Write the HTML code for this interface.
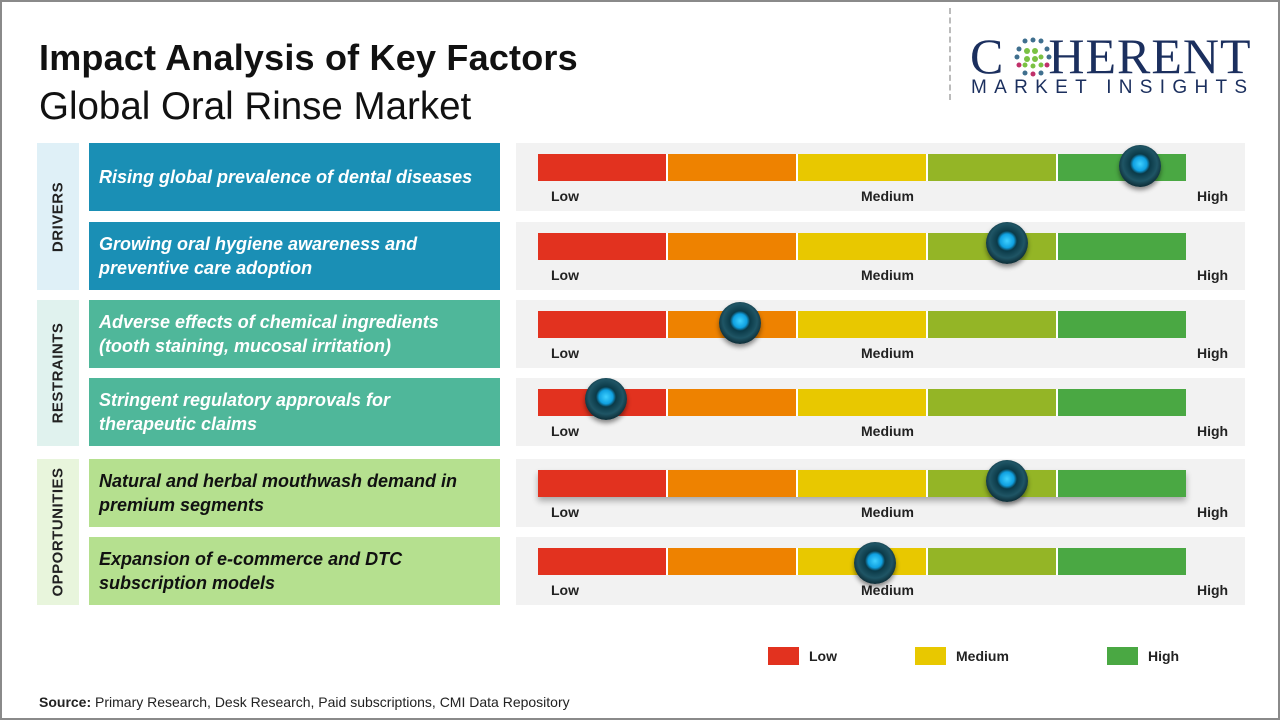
<!DOCTYPE html>
<html><head><meta charset="utf-8"><style>
*{margin:0;padding:0;box-sizing:border-box}
body{width:1280px;height:720px;background:#fff;font-family:"Liberation Sans",sans-serif;position:relative;overflow:hidden}
.frame{position:absolute;left:0;top:0;width:1280px;height:720px;border:2px solid #8a8a8a}
.abs{position:absolute}
.cat{position:absolute;left:37px;width:42px}
.cat span{position:absolute;left:50%;top:50%;transform:translate(-50%,-50%) rotate(-90deg);font-weight:bold;font-size:15px;white-space:nowrap;color:#222;letter-spacing:0.5px}
.txt{position:absolute;left:89px;width:411px;height:68px;display:flex;align-items:center;padding-left:10px;font-style:italic;font-weight:bold;font-size:18px;line-height:24px;color:#fff}
.panel{position:absolute;left:516px;width:729px;height:68px;background:#f2f2f2}
.bar{position:absolute;left:22px;top:11px;height:27px;width:648px;display:flex}
.bar div{flex:1;border-right:2px solid #fff}
.bar div:last-child{border-right:none}
.lbl{position:absolute;top:45px;font-size:14px;font-weight:bold;color:#222}
.knob{position:absolute;width:42px;height:42px;border-radius:50%;background:radial-gradient(circle at 50% 45%,#3fd0ff 0,#0fa0e0 22%,#0b3a48 32%,#1f5565 55%,#0c2a33 75%,#0a1f25 100%);box-shadow:0 3px 5px rgba(0,0,0,.45)}
</style></head><body>
<div class="frame"></div>
<div class="abs" style="left:39px;top:37px;font-size:36px;font-weight:bold;color:#111;letter-spacing:0.2px">Impact Analysis of Key Factors</div>
<div class="abs" style="left:39px;top:85px;font-size:38.5px;color:#111">Global Oral Rinse Market</div>
<div class="abs" style="left:949px;top:8px;height:92px;border-left:2px dashed #bbb"></div>
<div class="abs" style="left:970px;top:28px;font-family:'Liberation Serif',serif;font-size:50px;color:#1b2f5e;letter-spacing:1px;line-height:56px">C<span style="display:inline-block;width:44px"></span>HERENT</div>
<svg class="abs" style="left:1013px;top:37px" width="40" height="40" viewBox="0 0 40 40">
<g fill="#3f6f8e"><circle cx="12" cy="4" r="2.5"/><circle cx="20" cy="3" r="2.5"/><circle cx="28" cy="4" r="2.5"/><circle cx="6" cy="12" r="2.5"/><circle cx="34" cy="12" r="2.5"/><circle cx="4" cy="20" r="2.5"/><circle cx="36" cy="20" r="2.5"/><circle cx="12" cy="36" r="2.5"/><circle cx="28" cy="36" r="2.5"/></g>
<g fill="#c0306a"><circle cx="6" cy="28" r="2.5"/><circle cx="34" cy="28" r="2.5"/><circle cx="20" cy="37" r="2.5"/></g>
<g fill="#7ac143"><circle cx="14" cy="14" r="3"/><circle cx="22" cy="14" r="3"/><circle cx="14" cy="22" r="3"/><circle cx="22" cy="22" r="3"/><circle cx="28" cy="20" r="2.5"/><circle cx="12" cy="28" r="2.5"/><circle cx="20" cy="29" r="2.5"/><circle cx="28" cy="28" r="2.5"/></g></svg>
<div class="abs" style="left:971px;top:77px;font-size:19px;color:#1b2f5e;letter-spacing:7.3px">MARKET INSIGHTS</div>

<div class="cat" style="top:143px;height:147px;background:#dff0f7"><span>DRIVERS</span></div>
<div class="cat" style="top:300px;height:146px;background:#e0f2ee"><span>RESTRAINTS</span></div>
<div class="cat" style="top:459px;height:146px;background:#e8f5dc"><span>OPPORTUNITIES</span></div>

<div class="txt" style="top:143px;background:#1a8fb5">Rising global prevalence of dental diseases</div>
<div class="txt" style="top:222px;background:#1a8fb5">Growing oral hygiene awareness and<br>preventive care adoption</div>
<div class="txt" style="top:300px;background:#4fb79a">Adverse effects of chemical ingredients<br>(tooth staining, mucosal irritation)</div>
<div class="txt" style="top:378px;background:#4fb79a">Stringent regulatory approvals for<br>therapeutic claims</div>
<div class="txt" style="top:459px;background:#b5e08f;color:#111">Natural and herbal mouthwash demand in<br>premium segments</div>
<div class="txt" style="top:537px;background:#b5e08f;color:#111">Expansion of e-commerce and DTC<br>subscription models</div>

<div class="panel" style="top:143px"><div class="bar"><div style="background:#e2321f"></div><div style="background:#ee8200"></div><div style="background:#e8c800"></div><div style="background:#94b526"></div><div style="background:#4aa843"></div></div><div class="lbl" style="left:35px">Low</div><div class="lbl" style="left:345px">Medium</div><div class="lbl" style="left:681px">High</div><div class="knob" style="left:603px;top:2px"></div></div>
<div class="panel" style="top:222px"><div class="bar"><div style="background:#e2321f"></div><div style="background:#ee8200"></div><div style="background:#e8c800"></div><div style="background:#94b526"></div><div style="background:#4aa843"></div></div><div class="lbl" style="left:35px">Low</div><div class="lbl" style="left:345px">Medium</div><div class="lbl" style="left:681px">High</div><div class="knob" style="left:470px;top:0px"></div></div>
<div class="panel" style="top:300px"><div class="bar"><div style="background:#e2321f"></div><div style="background:#ee8200"></div><div style="background:#e8c800"></div><div style="background:#94b526"></div><div style="background:#4aa843"></div></div><div class="lbl" style="left:35px">Low</div><div class="lbl" style="left:345px">Medium</div><div class="lbl" style="left:681px">High</div><div class="knob" style="left:203px;top:2px"></div></div>
<div class="panel" style="top:378px"><div class="bar"><div style="background:#e2321f"></div><div style="background:#ee8200"></div><div style="background:#e8c800"></div><div style="background:#94b526"></div><div style="background:#4aa843"></div></div><div class="lbl" style="left:35px">Low</div><div class="lbl" style="left:345px">Medium</div><div class="lbl" style="left:681px">High</div><div class="knob" style="left:69px;top:0px"></div></div>
<div class="panel" style="top:459px"><div class="bar" style="box-shadow:0 4px 6px rgba(0,0,0,.3)"><div style="background:#e2321f"></div><div style="background:#ee8200"></div><div style="background:#e8c800"></div><div style="background:#94b526"></div><div style="background:#4aa843"></div></div><div class="lbl" style="left:35px">Low</div><div class="lbl" style="left:345px">Medium</div><div class="lbl" style="left:681px">High</div><div class="knob" style="left:470px;top:1px"></div></div>
<div class="panel" style="top:537px"><div class="bar"><div style="background:#e2321f"></div><div style="background:#ee8200"></div><div style="background:#e8c800"></div><div style="background:#94b526"></div><div style="background:#4aa843"></div></div><div class="lbl" style="left:35px">Low</div><div class="lbl" style="left:345px">Medium</div><div class="lbl" style="left:681px">High</div><div class="knob" style="left:338px;top:5px"></div></div>

<div class="abs" style="left:768px;top:647px;width:31px;height:18px;background:#e2321f"></div>
<div class="abs" style="left:809px;top:648px;font-size:14px;font-weight:bold;color:#222">Low</div>
<div class="abs" style="left:915px;top:647px;width:31px;height:18px;background:#e8c800"></div>
<div class="abs" style="left:956px;top:648px;font-size:14px;font-weight:bold;color:#222">Medium</div>
<div class="abs" style="left:1107px;top:647px;width:31px;height:18px;background:#4aa843"></div>
<div class="abs" style="left:1148px;top:648px;font-size:14px;font-weight:bold;color:#222">High</div>

<div class="abs" style="left:39px;top:694px;font-size:14px;color:#222"><b>Source:</b> Primary Research, Desk Research, Paid subscriptions, CMI Data Repository</div>
</body></html>
